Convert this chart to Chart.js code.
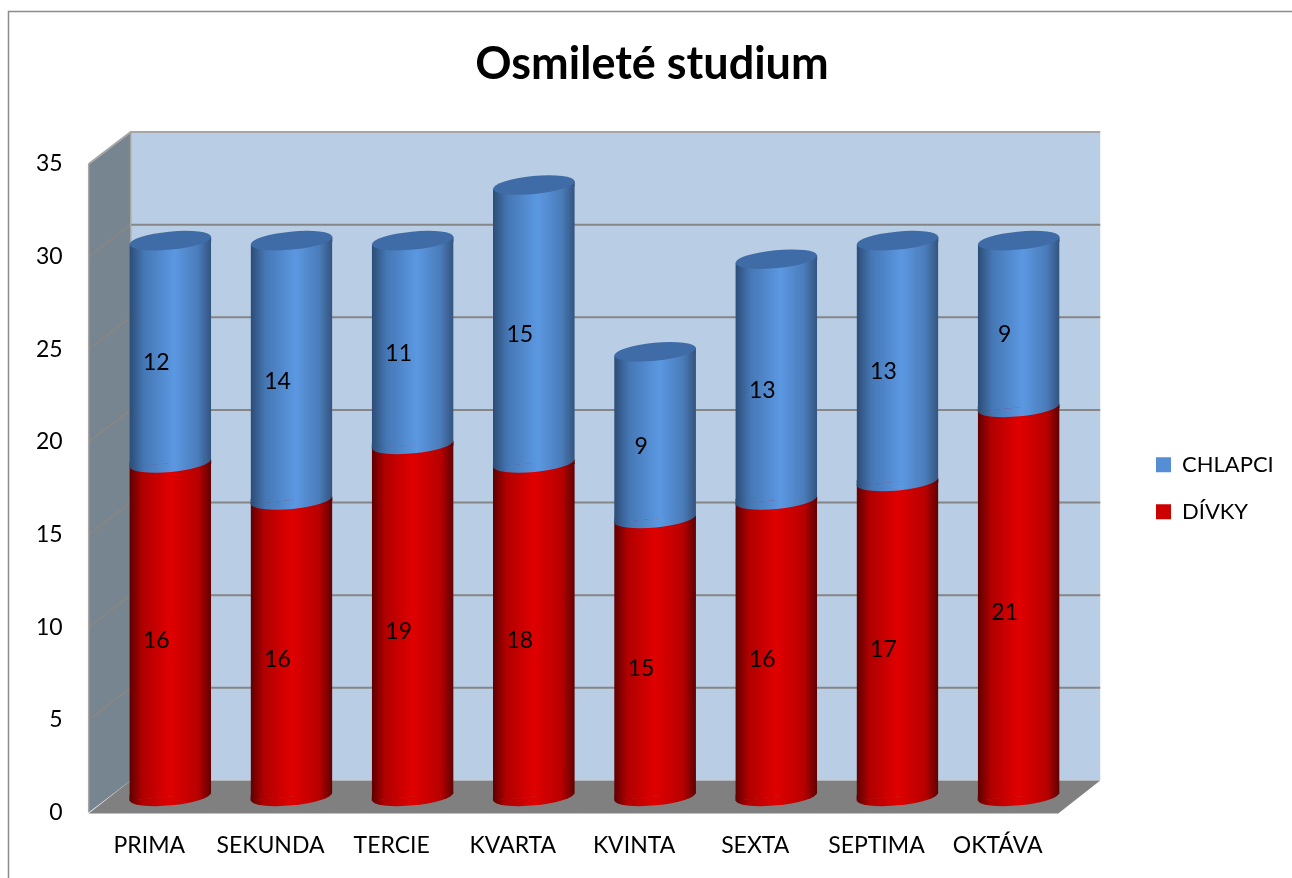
<!DOCTYPE html>
<html>
<head>
<meta charset="utf-8">
<title>Osmileté studium</title>
<script src="https://cdn.jsdelivr.net/npm/chart.js@4"></script>
<style>
  html, body { margin: 0; padding: 0; background: #fff; overflow: hidden; }
  canvas { display: block; }
</style>
</head>
<body>
<canvas id="studiumChart" width="1292" height="878"></canvas>
<script>
const categories = ['PRIMA', 'SEKUNDA', 'TERCIE', 'KVARTA', 'KVINTA', 'SEXTA', 'SEPTIMA', 'OKTÁVA'];
const divky = [18, 16, 19, 18, 15, 16, 17, 21];
const chlapci = [12, 14, 11, 15, 9, 13, 13, 9];
// the printed labels: the first red column is taller than its label says
const divkyLabels = [16, 16, 19, 18, 15, 16, 17, 21];
const chlapciLabels = [12, 14, 11, 15, 9, 13, 13, 9];

const FONT = 'Lato';
const DEPTH_X = 42, DEPTH_Y = -32;
const BAR_RATIO = 0.675;
const TILT = -5.5 * Math.PI / 180;
const CAP_RY = 9;

const redStops = [[0, '#5e0000'], [0.16, '#b00000'], [0.5, '#e00000'], [0.84, '#b80000'], [1, '#5e0000']];
const blueStops = [[0, '#2c4c75'], [0.18, '#4577b4'], [0.55, '#5b98e2'], [0.84, '#4a7cba'], [1, '#33547f']];

// bars are drawn inside a translated context, so no depth shift here
function barGradient(chart, index, stops) {
  const x = chart.scales.x;
  const cx = x.getPixelForValue(index);
  const half = x.width / categories.length * BAR_RATIO / 2;
  const g = chart.ctx.createLinearGradient(cx - half, 0, cx + half, 0);
  stops.forEach(s => g.addColorStop(s[0], s[1]));
  return g;
}

// back wall, side wall and floor, placed from the scales
const wallsPlugin = {
  id: 'walls',
  beforeDatasetsDraw(chart) {
    const ctx = chart.ctx, x = chart.scales.x, y = chart.scales.y;
    const l = x.left, r = x.right, b = y.getPixelForValue(0), t = y.getPixelForValue(35);
    ctx.save();
    ctx.fillStyle = '#b9cde5';
    ctx.fillRect(l + DEPTH_X, t + DEPTH_Y, r - l, b - t);
    ctx.fillStyle = '#76858f';
    ctx.beginPath();
    ctx.moveTo(l, t); ctx.lineTo(l + DEPTH_X, t + DEPTH_Y);
    ctx.lineTo(l + DEPTH_X, b + DEPTH_Y); ctx.lineTo(l, b);
    ctx.closePath(); ctx.fill();
    ctx.fillStyle = '#808080';
    ctx.beginPath();
    ctx.moveTo(l, b + 1); ctx.lineTo(l + DEPTH_X, b + DEPTH_Y);
    ctx.lineTo(r + DEPTH_X, b + DEPTH_Y); ctx.lineTo(r, b + 1);
    ctx.closePath(); ctx.fill();

    y.ticks.forEach(tick => {
      if (tick.value === 0) return;
      const py = y.getPixelForValue(tick.value);
      ctx.strokeStyle = tick.value === 35 ? '#a6a6a6' : '#868686';
      ctx.lineWidth = 2;
      ctx.beginPath();
      ctx.moveTo(l, py); ctx.lineTo(l + DEPTH_X, py + DEPTH_Y); ctx.lineTo(r + DEPTH_X, py + DEPTH_Y);
      ctx.stroke();
    });
    ctx.strokeStyle = '#a6a6a6';
    ctx.lineWidth = 1.5;
    ctx.beginPath();
    ctx.moveTo(l, t); ctx.lineTo(l, b);
    ctx.moveTo(l + DEPTH_X, t + DEPTH_Y); ctx.lineTo(l + DEPTH_X, b + DEPTH_Y);
    ctx.stroke();
    ctx.restore();
  }
};

// makes each bar a cylinder: shifted to mid depth, tilted ends, rounded bottom and top cap
const cylinderPlugin = {
  id: 'cylinder',
  beforeDatasetDraw(chart, args) {
    const ctx = chart.ctx;
    const over = args.index === 0 ? 1 : 0;
    ctx.save();
    ctx.translate(DEPTH_X / 2, DEPTH_Y / 2);
    ctx.beginPath();
    args.meta.data.forEach(bar => {
      const half = bar.width / 2, d = half * Math.sin(-TILT);
      ctx.moveTo(bar.x - half, bar.y + d - over);
      ctx.lineTo(bar.x + half, bar.y - d - over);
      ctx.lineTo(bar.x + half, bar.base - d + 1);
      ctx.lineTo(bar.x - half, bar.base + d + 1);
      ctx.closePath();
    });
    ctx.clip();
  },
  afterDatasetDraw(chart) {
    chart.ctx.restore();
  },
  afterDatasetsDraw(chart) {
    const ctx = chart.ctx;
    const printed = [divkyLabels, chlapciLabels];

    // the library paints the last dataset first, so the ends go on after both
    ctx.save();
    ctx.translate(DEPTH_X / 2, DEPTH_Y / 2);
    chart.data.datasets.forEach((ds, d) => {
      const stops = d === 0 ? redStops : blueStops;
      chart.getDatasetMeta(d).data.forEach((bar, i) => {
        const half = bar.width / 2, s = half * Math.sin(-TILT);
        const seam = d === 0 ? 0.8 : 0;
        ctx.fillStyle = barGradient(chart, i, stops);
        // right wedge between the flat bar top and the tilted chord
        ctx.beginPath();
        ctx.moveTo(bar.x - 1, bar.y + 1);
        ctx.lineTo(bar.x + half, bar.y + 1);
        ctx.lineTo(bar.x + half, bar.y - s + seam);
        ctx.lineTo(bar.x - 1, bar.y + seam);
        ctx.closePath();
        ctx.fill();
        // left wedge at the bar bottom
        ctx.beginPath();
        ctx.moveTo(bar.x - half, bar.base - 1);
        ctx.lineTo(bar.x + 1, bar.base - 1);
        ctx.lineTo(bar.x + 1, bar.base);
        ctx.lineTo(bar.x - half, bar.base + s + 0.5);
        ctx.closePath();
        ctx.fill();
        ctx.beginPath();
        ctx.ellipse(bar.x, bar.base, half, CAP_RY, TILT, 0, Math.PI);
        ctx.fill();
        if (d === 1) {
          ctx.fillStyle = '#3f6ca6';
          ctx.beginPath();
          ctx.ellipse(bar.x, bar.y, half, CAP_RY, TILT, 0, Math.PI * 2);
          ctx.fill();
        }
      });
    });
    ctx.restore();

    ctx.save();
    ctx.font = '23px ' + FONT;
    ctx.fillStyle = '#000';
    ctx.textAlign = 'center';
    ctx.textBaseline = 'middle';
    chart.data.datasets.forEach((ds, d) => {
      chart.getDatasetMeta(d).data.forEach((bar, i) => {
        ctx.fillText(printed[d][i], bar.x + 7, (bar.y + bar.base) / 2 - 5);
      });
    });
    ctx.restore();
  }
};

const framePlugin = {
  id: 'frame',
  beforeDraw(chart) {
    const ctx = chart.ctx;
    ctx.save();
    ctx.strokeStyle = '#8c8c8c';
    ctx.lineWidth = 1.5;
    ctx.beginPath();
    ctx.moveTo(8.5, 878); ctx.lineTo(8.5, 11.5); ctx.lineTo(1292, 11.5);
    ctx.stroke();
    ctx.restore();
  },
  afterLayout(chart) {
    // legend and title sit where the layout boxes do not put them
    const lg = chart.legend;
    const w = lg.right - lg.left;
    lg.left = 1131;
    lg.right = lg.left + w;
    chart.titleBlock.left = 0;
    chart.titleBlock.right = 1304;
  }
};

new Chart(document.getElementById('studiumChart'), {
  type: 'bar',
  plugins: [framePlugin, wallsPlugin, cylinderPlugin],
  data: {
    labels: categories,
    datasets: [
      {
        label: 'DÍVKY',
        data: divky,
        backgroundColor: c => barGradient(c.chart, c.dataIndex, redStops)
      },
      {
        label: 'CHLAPCI',
        data: chlapci,
        backgroundColor: c => barGradient(c.chart, c.dataIndex, blueStops)
      }
    ]
  },
  options: {
    responsive: false,
    animation: false,
    events: [],
    layout: { padding: { left: 10, right: 81, top: 37, bottom: 0 } },
    datasets: { bar: { categoryPercentage: 1, barPercentage: BAR_RATIO } },
    scales: {
      x: {
        stacked: true,
        grid: { display: false, drawTicks: false },
        border: { display: false },
        ticks: { color: '#000', font: { family: FONT, size: 23 }, padding: 19, maxRotation: 0, autoSkip: false }
      },
      y: {
        stacked: true,
        min: 0,
        max: 35,
        grid: { display: false, drawTicks: false },
        border: { display: false },
        ticks: { color: '#000', stepSize: 5, font: { family: FONT, size: 23 }, padding: 26 }
      }
    },
    plugins: {
      tooltip: { enabled: false },
      title: {
        display: true,
        text: 'Osmileté studium',
        color: '#000',
        font: { family: FONT, size: 45, weight: 'bold' },
        padding: { top: 0, bottom: 73 }
      },
      legend: {
        position: 'right',
        fullSize: false,
        reverse: true,
        labels: {
          color: '#000',
          font: { family: FONT, size: 22 },
          boxWidth: 15,
          boxHeight: 15,
          padding: 25,
          generateLabels: () => [
            { text: 'DÍVKY', fillStyle: '#cc0000', lineWidth: 0, strokeStyle: 'transparent', datasetIndex: 0 },
            { text: 'CHLAPCI', fillStyle: '#558ed5', lineWidth: 0, strokeStyle: 'transparent', datasetIndex: 1 }
          ]
        }
      }
    }
  }
});
</script>
</body>
</html>
